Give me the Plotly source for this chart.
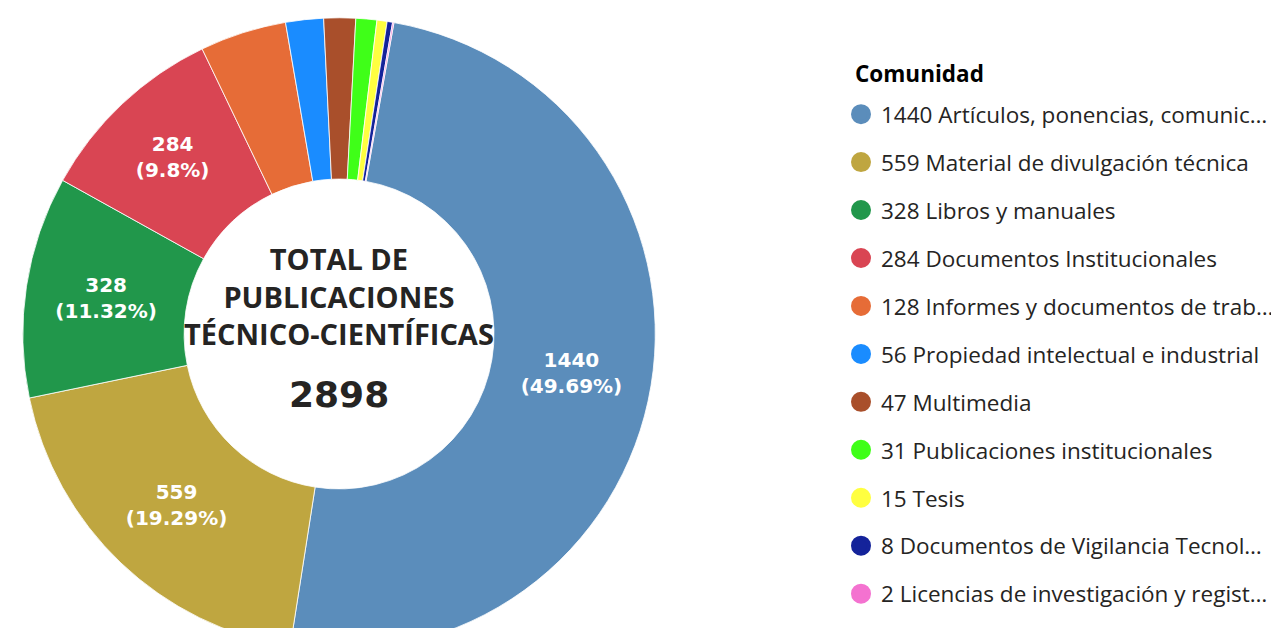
import plotly.graph_objects as go

# data
categories = [
    "Artículos, ponencias, comunic…",
    "Material de divulgación técnica",
    "Libros y manuales",
    "Documentos Institucionales",
    "Informes y documentos de trab…",
    "Propiedad intelectual e industrial",
    "Multimedia",
    "Publicaciones institucionales",
    "Tesis",
    "Documentos de Vigilancia Tecnol…",
    "Licencias de investigación y regist…",
]
counts = [1440, 559, 328, 284, 128, 56, 47, 31, 15, 8, 2]
colors = ["#5b8dbb", "#bfa640", "#21974b", "#d94553", "#e66c37", "#1a8cff",
          "#a94f2b", "#3fff18", "#ffff40", "#14239a", "#f472d0"]
center_title = "TOTAL DE<br>PUBLICACIONES<br>TÉCNICO-CIENTÍFICAS"
legend_title = "Comunidad"

total = sum(counts)
slice_text = []
for c in counts:
    pct = round(c / total * 100, 2)
    # only the big slices carry a label
    slice_text.append(f"{c}<br>({pct:g}%)" if pct > 5 else "")
legend_names = [f"{c} {n}" for c, n in zip(counts, categories)]

# page body adds an 8px offset, the donut is taller than the window on purpose
W, H = 1271, 660

fig = go.Figure()
fig.add_trace(go.Pie(
    values=counts,
    labels=categories,
    text=slice_text,
    textinfo="text",
    textposition="inside",
    insidetextorientation="horizontal",
    textfont=dict(family="DejaVu Sans", size=20, color="white", weight="bold"),
    marker=dict(colors=colors, line=dict(color="white", width=0.8)),
    hole=0.49,
    sort=False,
    direction="clockwise",
    rotation=10,
    showlegend=False,
    domain=dict(x=[15 / W, 655 / W], y=[14 / H, 654 / H]),
))

# legend built from empty marker traces so the symbols are circles
for name, col in zip(legend_names, colors):
    fig.add_trace(go.Scatter(
        x=[None], y=[None], mode="markers", name=name, legendgroup=name,
        marker=dict(symbol="circle", size=16, color=col, line=dict(color=col, width=4)),
    ))

fig.add_annotation(
    x=335 / W, y=1 - 288 / H, xref="paper", yref="paper", showarrow=False,
    xanchor="center", yanchor="middle",
    text=f"<b>{center_title}</b>",
    font=dict(family="Open Sans", size=29, color="#252423"),
)
fig.add_annotation(
    x=335 / W, y=1 - 386 / H, xref="paper", yref="paper", showarrow=False,
    xanchor="center", yanchor="middle",
    text=f"<b>{total}</b>",
    font=dict(family="DejaVu Sans", size=36, color="#252423"),
)
fig.add_annotation(
    x=855 / W, y=1 - 66 / H, xref="paper", yref="paper", showarrow=False,
    xanchor="left", yanchor="middle",
    text=f"<b>{legend_title}</b>",
    font=dict(family="Open Sans", size=22.5, color="#000000"),
)

fig.update_layout(
    width=W, height=H,
    margin=dict(l=0, r=0, t=0, b=0),
    paper_bgcolor="white", plot_bgcolor="white",
    xaxis=dict(visible=False), yaxis=dict(visible=False),
    legend=dict(
        x=843 / W, y=1 - 85 / H, xanchor="left", yanchor="top",
        font=dict(family="Open Sans", size=22.5, color="#252423"),
        tracegroupgap=15.7, itemwidth=30,
    ),
)

fig.write_html("out.html")
